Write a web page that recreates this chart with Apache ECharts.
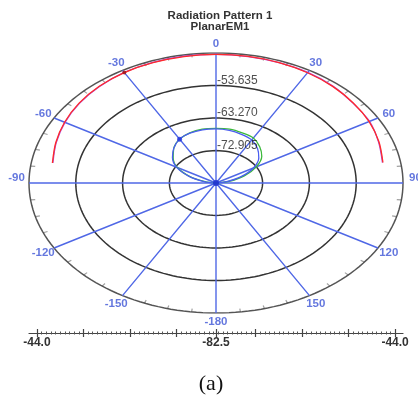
<!DOCTYPE html>
<html><head><meta charset="utf-8">
<script src="https://cdn.jsdelivr.net/npm/echarts@6/dist/echarts.min.js"></script>
<style>html,body{margin:0;padding:0;background:#fff}#c{width:418px;height:398px}</style>
</head><body><div id="c"></div>
<script>
const titleText = ['Radiation Pattern 1', 'PlanarEM1'];
const spokeAngles = [0, 30, 60, 90, 120, 150, 180, 210, 240, 270, 300, 330];
const spokeLabels = ['0', '30', '60', '90', '120', '150', '-180', '-150', '-120', '-90', '-60', '-30'];
const gainMin = -82.5;
const gainMax = -44.0;
const ringGains = [-72.905, -63.270, -53.635, -44.0];
const ringLabels = ['-72.905', '-63.270', '-53.635'];
const scaleLabels = ['-44.0', '-82.5', '-44.0'];
const outerAngles = [-80, -70, -60, -50, -40, -30, -20, -10, 0, 10, 20, 30, 40, 50, 60, 70, 80];
const redGain = [-48.3, -47.4, -46.5, -45.7, -45.1, -44.75, -44.6, -44.5, -44.4, -44.45, -44.55, -44.8, -45.15, -45.6, -46.1, -46.8, -47.6];
const magentaGain = [-48.4, -47.5, -46.6, -45.8, -45.2, -44.7, -44.45, -44.35, -44.4, -44.5, -44.6, -44.7, -45.05, -45.7, -46.0, -46.9, -47.7];
const innerAngles = [-90, -80, -70, -60, -50, -40, -30, -20, -10, 0, 10, 20, 30, 40, 50, 60, 70, 80, 90];
const greenGain = [-82.5, -80.2, -76.7, -73.3, -71.0, -69.0, -67.5, -66.7, -66.3, -66.3, -66.3, -66.7, -67.1, -68.5, -70.2, -72.9, -76.3, -79.8, -82.5];
const blueGain = [-82.5, -80.0, -76.5, -73.1, -70.8, -69.0, -67.5, -66.8, -66.5, -66.5, -66.7, -67.2, -67.8, -69.2, -71.0, -73.6, -77.0, -80.3, -82.5];
const markerAngle = -30;

const rad = d => d * Math.PI / 180;
const span = gainMax - gainMin;
const rNorm = g => Math.max(0, (g - gainMin) / span);
const toXY = (ang, g) => { const r = rNorm(g); return [r * Math.sin(rad(ang)), r * Math.cos(rad(ang))]; };

const BLUE = '#5068e6';
const LABEL_BLUE = '#3d55d6';
const FONT = 'Liberation Sans, Arial, sans-serif';
const series = [];

// rings
ringGains.forEach((g, i) => {
  const pts = [];
  for (let a = 0; a <= 360; a += 2) pts.push(toXY(a, g));
  series.push({ type: 'line', data: pts, symbol: 'none', silent: true, z: 1,
    lineStyle: { color: i === ringGains.length - 1 ? '#555' : '#333', width: 1.5 } });
});
// outer ticks
const tickData = [];
for (let a = 0; a < 360; a += 7.5) {
  if (a % 30 === 0) continue;
  const r1 = 1, r2 = 0.975;
  tickData.push({ coords: [[r1 * Math.sin(rad(a)), r1 * Math.cos(rad(a))], [r2 * Math.sin(rad(a)), r2 * Math.cos(rad(a))]] });
}
series.push({ type: 'lines', coordinateSystem: 'cartesian2d', data: tickData, silent: true, z: 2,
  lineStyle: { color: '#444', width: 1.2 } });
// spokes
for (let a = 0; a < 180; a += 30) {
  series.push({ type: 'line', data: [toXY(a, gainMax), [0, 0], toXY(a + 180, gainMax)], symbol: 'none', silent: true, z: 3,
    lineStyle: { color: BLUE, width: 1.4 } });
}
// data curves
const curve = (angles, gains, color, z) => ({ type: 'line', data: angles.map((a, i) => toXY(a, gains[i])), symbol: 'none', smooth: 0.3, z,
  lineStyle: { color, width: 1.3 } });
series.push(curve(outerAngles, redGain, '#ff2a2a', 5));
series.push(curve(outerAngles, magentaGain, '#b04ad6', 4));
series.push(curve(innerAngles, greenGain, '#3cb83c', 5));
series.push(curve(innerAngles, blueGain, '#4a5ef0', 5));
// markers
const mi = outerAngles.indexOf(markerAngle);
const ni = innerAngles.indexOf(markerAngle);
series.push({ type: 'scatter', z: 8, symbolSize: 4, data: [toXY(markerAngle, redGain[mi])], itemStyle: { color: '#a01010' } });
series.push({ type: 'scatter', z: 8, symbolSize: 5, data: [toXY(markerAngle, blueGain[ni])], itemStyle: { color: '#2233dd' } });
series.push({ type: 'scatter', z: 8, symbolSize: 6, data: [[0, 0]], itemStyle: { color: '#1a2ccc' } });
// angle labels
series.push({ type: 'scatter', z: 9, symbolSize: 0, silent: true,
  data: spokeAngles.map((a, i) => {
    const s = Math.sin(rad(a)), c = Math.cos(rad(a));
    const dy = -c * 9 - (Math.abs(s) > 0.99 ? 5 : 0);
    return { value: toXY(a, gainMax), label: { show: true, position: 'inside', formatter: spokeLabels[i], offset: [s * 12.5, dy] } };
  }),
  label: { color: LABEL_BLUE, fontSize: 11.5, fontWeight: 'bold', fontFamily: FONT } });
// ring labels
series.push({ type: 'scatter', z: 9, symbolSize: 0, silent: true,
  data: ringLabels.map((t, i) => ({ value: [0, rNorm(ringGains[i])], label: { show: true, formatter: t } })),
  label: { position: 'right', distance: 1, offset: [0, -5], color: '#222', fontSize: 12, fontFamily: FONT } });

// bottom scale ticks
const major = [0];
for (let k = 0; k * 10 < span; k++) { major.push(-(span - 10 * k)); major.push(span - 10 * k); }
const minor = [];
for (let k = 1; k < span; k++) { if (k % 10 !== 0) { minor.push(-span + k); minor.push(span - k); } }
const scaleAxis = (extra) => Object.assign({ type: 'value', gridIndex: 1, min: -40.2, max: 40.2, position: 'bottom',
  splitLine: { show: false }, axisLine: { show: false }, axisLabel: { show: false }, axisTick: { show: false } }, extra);

const option = {
  animation: false,
  title: { text: titleText.join('\n'), left: 215, top: 5, textAlign: 'center',
    textStyle: { fontSize: 11.5, fontWeight: 'bold', color: '#333', lineHeight: 11, fontFamily: FONT } },
  grid: [
    { left: 29, top: 53, width: 374, height: 260 },
    { left: 29, top: 332, width: 374, height: 1 }
  ],
  xAxis: [
    { type: 'value', gridIndex: 0, min: -1, max: 1, show: false },
    scaleAxis({ axisLine: { show: true, lineStyle: { color: '#444', width: 1.2 } },
      axisTick: { show: true, customValues: major, length: 4, lineStyle: { color: '#444', width: 1.2 } },
      axisLabel: { show: true, customValues: [-span, 0, span], formatter: v => scaleLabels[v < 0 ? 0 : (v > 0 ? 2 : 1)],
        margin: 4, color: '#333', fontSize: 12, fontWeight: 'bold', fontFamily: FONT } }),
    scaleAxis({ axisTick: { show: true, inside: true, customValues: major, length: 4, lineStyle: { color: '#444', width: 1.2 } } }),
    scaleAxis({ axisTick: { show: true, customValues: minor, length: 1.5, lineStyle: { color: '#555', width: 1 } } }),
    scaleAxis({ axisTick: { show: true, inside: true, customValues: minor, length: 1.5, lineStyle: { color: '#555', width: 1 } } })
  ],
  yAxis: [
    { type: 'value', gridIndex: 0, min: -1, max: 1, show: false },
    { type: 'value', gridIndex: 1, min: 0, max: 1, show: false }
  ],
  graphic: [{ type: 'text', x: 211, y: 384, style: { text: '(a)', fill: '#111', font: '22px "Liberation Serif", "Times New Roman", serif', textAlign: 'center', textVerticalAlign: 'middle' } }],
  series
};
const chart = echarts.init(document.getElementById('c'), null, { renderer: 'canvas' });
chart.setOption(option);
</script></body></html>
